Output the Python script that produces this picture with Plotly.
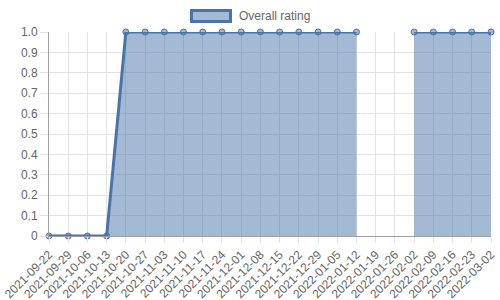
import plotly.graph_objects as go

dates = ["2021-09-22", "2021-09-29", "2021-10-06", "2021-10-13", "2021-10-20", "2021-10-27",
         "2021-11-03", "2021-11-10", "2021-11-17", "2021-11-24", "2021-12-01", "2021-12-08",
         "2021-12-15", "2021-12-22", "2021-12-29", "2022-01-05", "2022-01-12", "2022-01-19",
         "2022-01-26", "2022-02-02", "2022-02-09", "2022-02-16", "2022-02-23", "2022-03-02"]
overall_rating = [0, 0, 0, 0, 1, 1, 1, 1, 1, 1, 1, 1, 1, 1, 1, 1, 1, None, None, 1, 1, 1, 1, 1]
series_name = "Overall rating"
y_tickvals = [0, 0.1, 0.2, 0.3, 0.4, 0.5, 0.6, 0.7, 0.8, 0.9, 1.0]
y_ticktext = ["0", "0.1", "0.2", "0.3", "0.4", "0.5", "0.6", "0.7", "0.8", "0.9", "1.0"]

LINE = "#4a74a8"
FILL = "rgba(74,116,168,0.5)"
FONT = "Liberation Sans, Arial, sans-serif"

# split into contiguous segments (gaps where value is None)
segments = []
cur = []
for d, v in zip(dates, overall_rating):
    if v is None:
        if cur:
            segments.append(cur)
        cur = []
    else:
        cur.append((d, v))
if cur:
    segments.append(cur)

fig = go.Figure()
for seg in segments:
    fig.add_trace(go.Scatter(
        x=[p[0] for p in seg], y=[p[1] for p in seg], mode="lines+markers", name=series_name,
        fill="tozeroy", fillcolor=FILL,
        line=dict(color=LINE, width=3),
        marker=dict(size=6, color=FILL, line=dict(color=LINE, width=1)),
        cliponaxis=False, showlegend=False,
    ))

# legend drawn Chart.js style
fig.add_shape(type="rect", xref="paper", yref="paper",
              x0=(191.5 - 49) / 442, x1=(230.5 - 49) / 442,
              y0=(236 - 21.5) / 204, y1=(236 - 10.5) / 204,
              fillcolor=FILL, line=dict(color=LINE, width=3))
fig.add_annotation(xref="paper", yref="paper", x=(237 - 49) / 442, y=(236 - 16) / 204,
                   text=series_name, showarrow=False, xanchor="left", yanchor="middle",
                   font=dict(family=FONT, size=12, color="#666666"))

fig.update_layout(
    width=500, height=300, margin=dict(l=49, r=9, t=32, b=64),
    paper_bgcolor="white", plot_bgcolor="white",
    font=dict(family=FONT, size=12, color="#666666"),
)
fig.update_xaxes(type="category", categoryorder="array", categoryarray=dates,
                 range=[0, 23], tickangle=-45, automargin=False,
                 tickvals=dates, ticktext=dates,
                 showgrid=True, gridcolor="#e3e3e3", gridwidth=1,
                 showline=True, linecolor="#a0a0a0", linewidth=1,
                 ticks="outside", ticklen=6, tickcolor="#e3e3e3",
                 tickfont=dict(family=FONT, size=12, color="#666666"), zeroline=False)
fig.update_yaxes(range=[0, 1], tickvals=y_tickvals, ticktext=y_ticktext, automargin=False,
                 showgrid=True, gridcolor="#e3e3e3", gridwidth=1,
                 showline=True, linecolor="#a0a0a0", linewidth=1,
                 ticks="outside", ticklen=8, tickcolor="#e3e3e3",
                 tickfont=dict(family=FONT, size=12, color="#666666"), zeroline=False)

fig.write_html("out.html")
